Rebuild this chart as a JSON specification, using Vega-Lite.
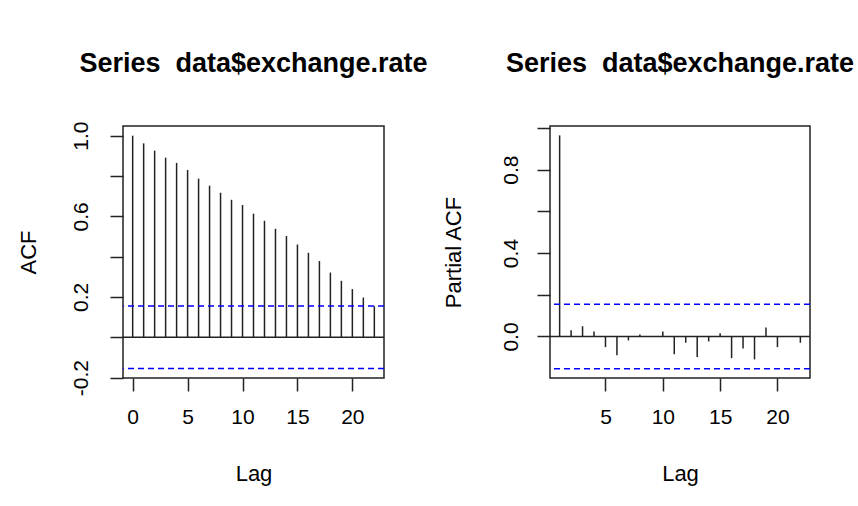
{
  "$schema": "https://vega.github.io/schema/vega-lite/v6.json",
  "background": "white",
  "padding": {"left": 16, "top": 49, "right": 5, "bottom": 5},
  "bounds": "flush",
  "spacing": 166,
  "config": {
    "font": "Liberation Sans",
    "view": {"stroke": "#222", "strokeWidth": 1.5},
    "axis": {
      "domain": false, "grid": false,
      "tickColor": "#222", "tickWidth": 1.5, "tickSize": 13,
      "labelFont": "Liberation Sans", "labelFontSize": 21, "labelColor": "#000",
      "labelOverlap": false, "labelFlush": false,
      "titleFont": "Liberation Sans", "titleFontSize": 22, "titleFontWeight": "normal", "titleColor": "#000"
    },
    "title": {"font": "Liberation Sans", "fontSize": 27, "fontWeight": "bold", "color": "#000", "anchor": "middle", "frame": "group", "baseline": "alphabetic"}
  },
  "datasets": {
    "acf": [
      {"lag": 0, "acf": 1.0}, {"lag": 1, "acf": 0.962}, {"lag": 2, "acf": 0.926}, {"lag": 3, "acf": 0.891},
      {"lag": 4, "acf": 0.865}, {"lag": 5, "acf": 0.83}, {"lag": 6, "acf": 0.787}, {"lag": 7, "acf": 0.752},
      {"lag": 8, "acf": 0.717}, {"lag": 9, "acf": 0.682}, {"lag": 10, "acf": 0.656}, {"lag": 11, "acf": 0.613},
      {"lag": 12, "acf": 0.578}, {"lag": 13, "acf": 0.538}, {"lag": 14, "acf": 0.502}, {"lag": 15, "acf": 0.46},
      {"lag": 16, "acf": 0.419}, {"lag": 17, "acf": 0.378}, {"lag": 18, "acf": 0.321}, {"lag": 19, "acf": 0.28},
      {"lag": 20, "acf": 0.239}, {"lag": 21, "acf": 0.197}, {"lag": 22, "acf": 0.154}
    ],
    "pacf": [
      {"lag": 1, "pacf": 0.964}, {"lag": 2, "pacf": 0.03}, {"lag": 3, "pacf": 0.049}, {"lag": 4, "pacf": 0.024},
      {"lag": 5, "pacf": -0.051}, {"lag": 6, "pacf": -0.09}, {"lag": 7, "pacf": -0.019}, {"lag": 8, "pacf": 0.01},
      {"lag": 9, "pacf": 0.002}, {"lag": 10, "pacf": 0.024}, {"lag": 11, "pacf": -0.085}, {"lag": 12, "pacf": -0.03},
      {"lag": 13, "pacf": -0.098}, {"lag": 14, "pacf": -0.024}, {"lag": 15, "pacf": 0.016}, {"lag": 16, "pacf": -0.104},
      {"lag": 17, "pacf": -0.058}, {"lag": 18, "pacf": -0.11}, {"lag": 19, "pacf": 0.043}, {"lag": 20, "pacf": -0.051},
      {"lag": 21, "pacf": -0.003}, {"lag": 22, "pacf": -0.03}
    ],
    "ci": [{"v": 0.155}, {"v": -0.155}],
    "zero": [{"v": 0}]
  },
  "hconcat": [
    {
      "width": 261, "height": 252,
      "title": {"text": "Series\u00a0 data$exchange.rate", "offset": 43},
      "layer": [
        {
          "data": {"name": "acf"},
          "mark": {"type": "rule", "color": "#222", "strokeWidth": 1.5},
          "encoding": {
            "x": {"field": "lag", "type": "quantitative",
              "scale": {"domain": [-0.88, 22.88], "nice": false, "zero": false},
              "axis": {"values": [0, 5, 10, 15, 20], "title": "Lag", "labelPadding": 15, "titlePadding": 36}},
            "y": {"field": "acf", "type": "quantitative",
              "scale": {"domain": [-0.202, 1.048], "nice": false, "zero": false},
              "axis": {"values": [-0.2, 0, 0.2, 0.4, 0.6, 0.8, 1.0], "title": "ACF",
                "labelAngle": 270, "labelAlign": "center", "labelBaseline": "alphabetic", "labelPadding": 23, "titlePadding": 30,
                "labelExpr": "abs(datum.value + 0.2) < 0.01 ? '-0.2' : abs(datum.value - 0.2) < 0.01 ? '0.2' : abs(datum.value - 0.6) < 0.01 ? '0.6' : abs(datum.value - 1) < 0.01 ? '1.0' : ''"}},
            "y2": {"datum": 0}
          }
        },
        {
          "data": {"name": "zero"},
          "mark": {"type": "rule", "color": "#222", "strokeWidth": 1.5},
          "encoding": {"y": {"field": "v", "type": "quantitative"}}
        },
        {
          "data": {"name": "ci"},
          "mark": {"type": "rule", "color": "#0000ff", "strokeWidth": 1.5, "strokeDash": [6, 4]},
          "encoding": {"y": {"field": "v", "type": "quantitative"}}
        }
      ]
    },
    {
      "width": 260, "height": 252,
      "title": {"text": "Series\u00a0 data$exchange.rate", "offset": 48},
      "layer": [
        {
          "data": {"name": "pacf"},
          "mark": {"type": "rule", "color": "#222", "strokeWidth": 1.5},
          "encoding": {
            "x": {"field": "lag", "type": "quantitative",
              "scale": {"domain": [0.16, 22.84], "nice": false, "zero": false},
              "axis": {"values": [5, 10, 15, 20], "title": "Lag", "labelPadding": 15, "titlePadding": 36}},
            "y": {"field": "pacf", "type": "quantitative",
              "scale": {"domain": [-0.199, 1.009], "nice": false, "zero": false},
              "axis": {"values": [0, 0.2, 0.4, 0.6, 0.8, 1.0], "title": "Partial ACF",
                "labelAngle": 270, "labelAlign": "center", "labelBaseline": "alphabetic", "labelPadding": 20, "titlePadding": 35,
                "labelExpr": "abs(datum.value) < 0.01 ? '0.0' : abs(datum.value - 0.4) < 0.01 ? '0.4' : abs(datum.value - 0.8) < 0.01 ? '0.8' : ''"}},
            "y2": {"datum": 0}
          }
        },
        {
          "data": {"name": "zero"},
          "mark": {"type": "rule", "color": "#222", "strokeWidth": 1.5},
          "encoding": {"y": {"field": "v", "type": "quantitative"}}
        },
        {
          "data": {"name": "ci"},
          "mark": {"type": "rule", "color": "#0000ff", "strokeWidth": 1.5, "strokeDash": [6, 4]},
          "encoding": {"y": {"field": "v", "type": "quantitative"}}
        }
      ]
    }
  ]
}
